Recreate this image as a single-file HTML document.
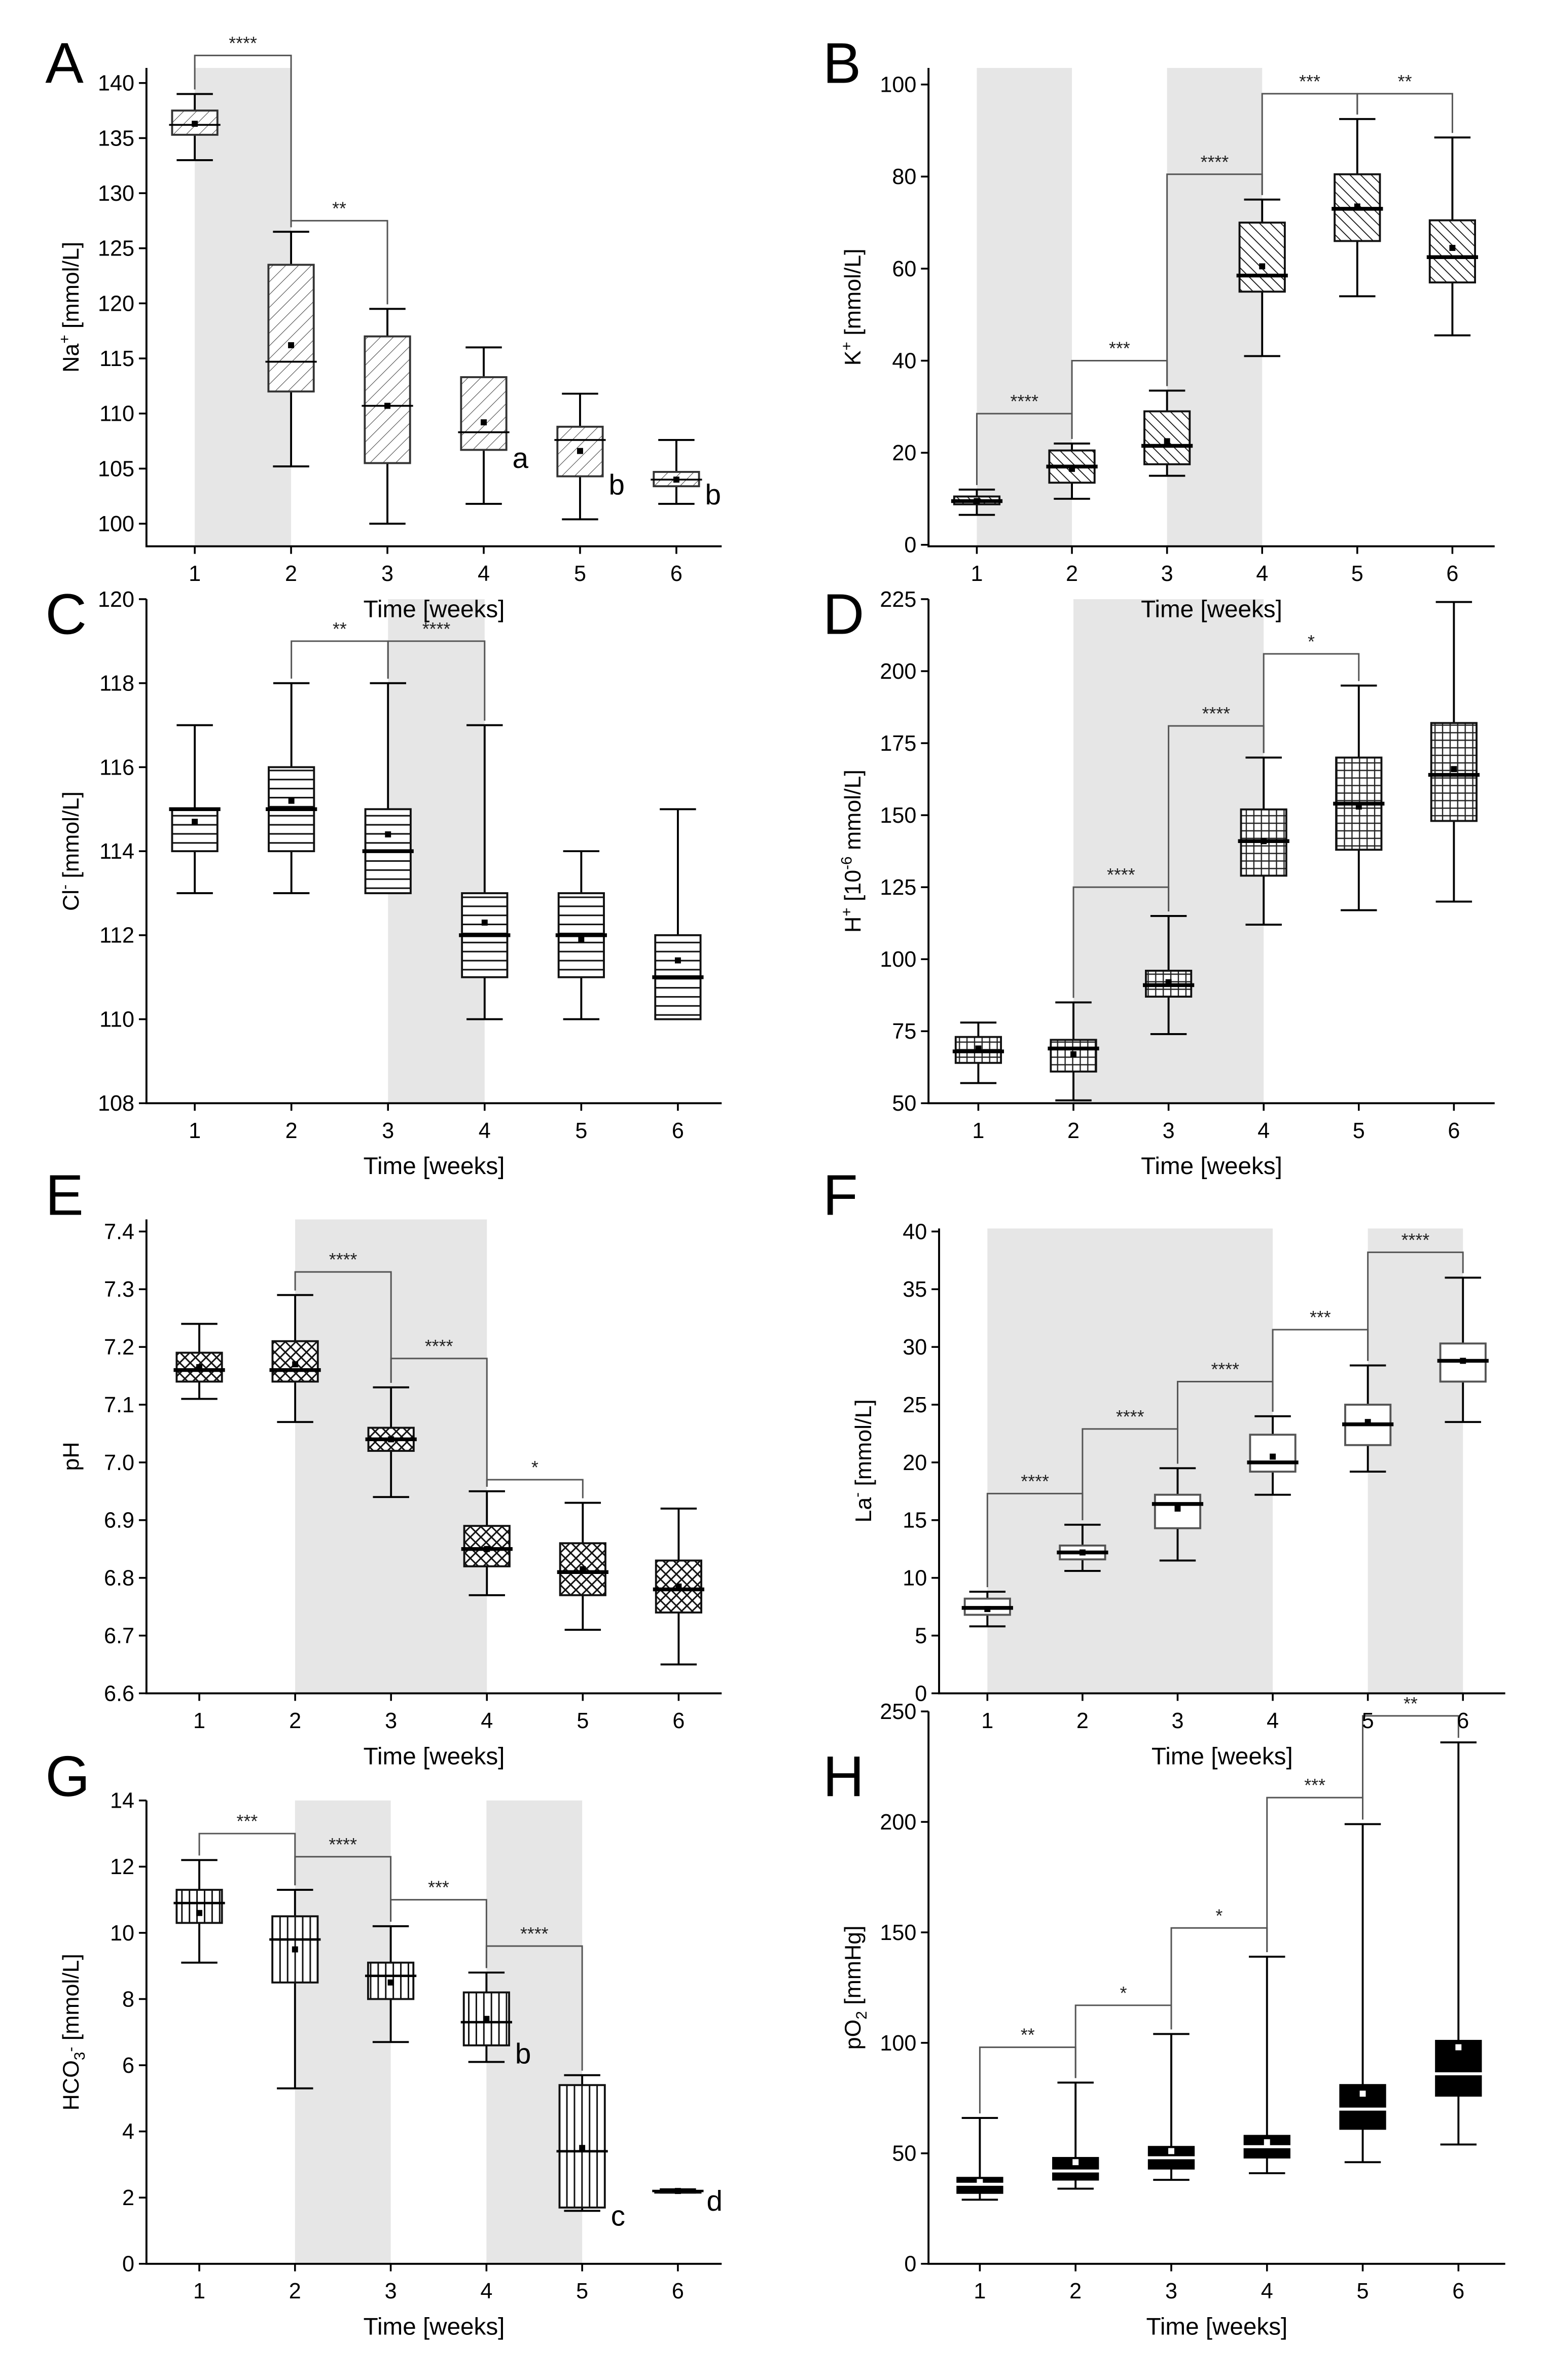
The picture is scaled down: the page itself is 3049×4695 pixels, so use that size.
<!DOCTYPE html>
<html><head><meta charset="utf-8">
<style>
html,body{margin:0;padding:0;background:#fff;}
svg{display:block;font-family:"Liberation Sans",sans-serif;}
</style></head>
<body>
<svg id="fig" width="3049" height="4695" viewBox="0 0 1024 1577" preserveAspectRatio="none" xmlns="http://www.w3.org/2000/svg">
<defs>
<pattern id="pA" patternUnits="userSpaceOnUse" width="6" height="6" patternTransform="rotate(45)"><line x1="0" y1="0" x2="0" y2="6" stroke="#444" stroke-width="0.7"/></pattern>
<pattern id="pB" patternUnits="userSpaceOnUse" width="5" height="5" patternTransform="rotate(-45)"><line x1="0" y1="0" x2="0" y2="5" stroke="#111" stroke-width="1.2"/></pattern>
<pattern id="pC" patternUnits="userSpaceOnUse" width="6" height="6"><line x1="0" y1="0.5" x2="6" y2="0.5" stroke="#111" stroke-width="1.1"/></pattern>
<pattern id="pD" patternUnits="userSpaceOnUse" width="5" height="5"><path d="M0 0.5H5M0.5 0V5" stroke="#222" stroke-width="0.8"/></pattern>
<pattern id="pE" patternUnits="userSpaceOnUse" width="7" height="7"><path d="M0 0L7 7M7 0L0 7" stroke="#111" stroke-width="1"/></pattern>
<pattern id="pG" patternUnits="userSpaceOnUse" width="5" height="5"><line x1="0.5" y1="0" x2="0.5" y2="5" stroke="#111" stroke-width="1"/></pattern>
</defs>
</svg>
<script>
// ---- data: rows are [min, q1, median, q3, max, mean] per week 1..6 ----
const weeks = [1,2,3,4,5,6];
const naBoxes = [[133,135.3,136.2,137.5,139,136.3],[105.2,112,114.7,123.5,126.5,116.2],[100,105.5,110.7,117,119.5,110.7],[101.8,106.7,108.3,113.3,116,109.2],[100.4,104.3,107.6,108.8,111.8,106.6],[101.8,103.4,104,104.7,107.6,104]];
const kBoxes = [[6.5,8.8,9.5,10.5,12,9.5],[10,13.5,17,20.5,22,16.5],[15,17.5,21.5,29,33.5,22.5],[41,55,58.5,70,75,60.5],[54,66,73,80.5,92.5,73.5],[45.5,57,62.5,70.5,88.5,64.5]];
const clBoxes = [[113,114,115,115,117,114.7],[113,114,115,116,118,115.2],[113,113,114,115,118,114.4],[110,111,112,113,117,112.3],[110,111,112,113,114,111.9],[110,110,111,112,115,111.4]];
const hBoxes = [[57,64,68,73,78,69],[51,61,69,72,85,67],[74,87,91,96,115,92],[112,129,141,152,170,141],[117,138,154,170,195,153],[120,148,164,182,224,166]];
const phBoxes = [[7.11,7.14,7.16,7.19,7.24,7.165],[7.07,7.14,7.16,7.21,7.29,7.17],[6.94,7.02,7.04,7.06,7.13,7.04],[6.77,6.82,6.85,6.89,6.95,6.85],[6.71,6.77,6.81,6.86,6.93,6.815],[6.65,6.74,6.78,6.83,6.92,6.785]];
const laBoxes = [[5.8,6.8,7.4,8.2,8.8,7.3],[10.6,11.6,12.2,12.8,14.6,12.2],[11.5,14.3,16.4,17.2,19.5,16],[17.2,19.2,20,22.4,24,20.5],[19.2,21.5,23.3,25,28.4,23.5],[23.5,27,28.8,30.3,36,28.8]];
const hco3Boxes = [[9.1,10.3,10.9,11.3,12.2,10.6],[5.3,8.5,9.8,10.5,11.3,9.5],[6.7,8,8.7,9.1,10.2,8.5],[6.1,6.6,7.3,8.2,8.8,7.4],[1.6,1.7,3.4,5.4,5.7,3.5],[2.15,2.15,2.2,2.2,2.25,2.2]];
const po2Boxes = [[29,32,36,39,66,37],[34,38,42,48,82,46],[38,43,48,53,104,51],[41,48,53,58,139,55],[46,61,70,81,199,77],[54,76,86,101,236,98]];
// significance brackets: [fromWeek, toWeek, level, stars]
const naSig = [[1,2,142.5,'****'],[2,3,127.5,'**']];
const kSig = [[1,2,28.5,'****'],[2,3,40,'***'],[3,4,80.5,'****'],[4,5,98,'***'],[5,6,98,'**']];
const clSig = [[2,3,119,'**'],[3,4,119,'****']];
const hSig = [[2,3,125,'****'],[3,4,181,'****'],[4,5,206,'*']];
const phSig = [[2,3,7.33,'****'],[3,4,7.18,'****'],[4,5,6.97,'*']];
const laSig = [[1,2,17.3,'****'],[2,3,22.9,'****'],[3,4,27,'****'],[4,5,31.5,'***'],[5,6,38.2,'****']];
const hco3Sig = [[1,2,13,'***'],[2,3,12.3,'****'],[3,4,11,'***'],[4,5,9.6,'****']];
const po2Sig = [[1,2,98,'**'],[2,3,117,'*'],[3,4,152,'*'],[4,5,211,'***'],[5,6,248,'**']];
// letters: [week, text]
const naLetters = [[4,'a'],[5,'b'],[6,'b']];
const hco3Letters = [[4,'b'],[5,'c'],[6,'d']];
// gray bands: [fromWeek, toWeek]
const naBands = [[1,2]], kBands = [[1,2],[3,4]], clBands = [[3,4]], hBands = [[2,4]], phBands = [[2,4]], laBands = [[1,4],[5,6]], hco3Bands = [[2,3],[4,5]], po2Bands = [];
const naTicks=[100,105,110,115,120,125,130,135,140], kTicks=[0,20,40,60,80,100], clTicks=[108,110,112,114,116,118,120], hTicks=[50,75,100,125,150,175,200,225], phTicks=[6.6,6.7,6.8,6.9,7.0,7.1,7.2,7.3,7.4], laTicks=[0,5,10,15,20,25,30,35,40], hco3Ticks=[0,2,4,6,8,10,12,14], po2Ticks=[0,50,100,150,200,250];

const NS="http://www.w3.org/2000/svg";
const svg=document.getElementById('fig');
function mk(tag,attrs,parent){const e=document.createElementNS(NS,tag);for(const k in attrs)e.setAttribute(k,attrs[k]);(parent||svg).appendChild(e);return e;}

const panels=[
 {id:'a',letter:'A',lx:30,ly:55,left:97,right:478,top:45,bottom:362,v0:100,p0:347,v1:140,p1:55,c1:129,dx:63.8,boxes:naBoxes,sig:naSig,bands:naBands,ticks:naTicks,dec:0,fill:'url(#pA)',stroke:'#333',medW:1.2,letters:naLetters,ylab:[['Na'],['+','sup'],[' [mmol/L]']]},
 {id:'b',letter:'B',lx:545,ly:55,left:615,right:990,top:45,bottom:362,v0:0,p0:361,v1:100,p1:56,c1:647,dx:63,boxes:kBoxes,sig:kSig,bands:kBands,ticks:kTicks,dec:0,fill:'url(#pB)',stroke:'#111',medW:2.5,letters:[],ylab:[['K'],['+','sup'],[' [mmol/L]']]},
 {id:'c',letter:'C',lx:30,ly:420,left:97,right:478,top:397,bottom:731,v0:108,p0:731,v1:120,p1:397,c1:129,dx:64,boxes:clBoxes,sig:clSig,bands:clBands,ticks:clTicks,dec:0,fill:'url(#pC)',stroke:'#111',medW:2.5,letters:[],ylab:[['Cl'],['-','sup'],[' [mmol/L]']]},
 {id:'d',letter:'D',lx:545,ly:420,left:615,right:990,top:397,bottom:731,v0:50,p0:731,v1:225,p1:397,c1:648,dx:63,boxes:hBoxes,sig:hSig,bands:hBands,ticks:hTicks,dec:0,fill:'url(#pD)',stroke:'#111',medW:2.5,letters:[],ylab:[['H'],['+','sup'],[' [10'],['-6','sup'],[' mmol/L]']]},
 {id:'e',letter:'E',lx:30,ly:805,left:97,right:478,top:808,bottom:1122,v0:6.6,p0:1122,v1:7.4,p1:816,c1:132,dx:63.5,boxes:phBoxes,sig:phSig,bands:phBands,ticks:phTicks,dec:1,fill:'url(#pE)',stroke:'#111',medW:2.5,letters:[],ylab:[['pH']]},
 {id:'f',letter:'F',lx:545,ly:805,left:622,right:997,top:814,bottom:1122,v0:0,p0:1122,v1:40,p1:816,c1:654,dx:63,boxes:laBoxes,sig:laSig,bands:laBands,ticks:laTicks,dec:0,fill:'#fff',stroke:'#555',medW:2.5,letters:[],ylab:[['La'],['-','sup'],[' [mmol/L]']]},
 {id:'g',letter:'G',lx:30,ly:1190,left:97,right:478,top:1193,bottom:1500,v0:0,p0:1500,v1:14,p1:1193,c1:132,dx:63.4,boxes:hco3Boxes,sig:hco3Sig,bands:hco3Bands,ticks:hco3Ticks,dec:0,fill:'url(#pG)',stroke:'#111',medW:1.6,letters:hco3Letters,ylab:[['HCO'],['3','sub'],['-','sup'],[' [mmol/L]']]},
 {id:'h',letter:'H',lx:545,ly:1190,left:615,right:997,top:1134,bottom:1500,v0:0,p0:1500,v1:250,p1:1134,c1:649,dx:63.4,boxes:po2Boxes,sig:po2Sig,bands:po2Bands,ticks:po2Ticks,dec:0,fill:'#000',stroke:'#000',medW:2,letters:[],black:true,ylab:[['pO'],['2','sub'],[' [mmHg]']]}
];

const textLayer=[];
panels.forEach(P=>{
 const y=v=>P.p0+(v-P.v0)*(P.p1-P.p0)/(P.v1-P.v0);
 const x=w=>P.c1+(w-1)*P.dx;
 const g=mk('g',{});
 
 
 const tg=document.createElementNS(NS,'g');
 
 
 textLayer.push(tg);
 const L=mk('text',{x:P.lx,y:P.ly,'font-size':38,fill:'#000'},tg);L.textContent=P.letter;
 
 
 P.bands.forEach(b=>{
  const r=mk('rect',{x:x(b[0]),y:P.top,width:x(b[1])-x(b[0]),height:P.bottom-P.top,fill:'#e6e6e6'},g);
  
  
 });
 const ax=mk('path',{d:`M${P.left} ${P.top}V${P.bottom}H${P.right}`,stroke:'#000','stroke-width':1.3,fill:'none'},g);
 
 
 P.ticks.forEach(t=>{
  const yy=y(t);
  mk('line',{x1:P.left-5,x2:P.left,y1:yy,y2:yy,stroke:'#000','stroke-width':1.2},g);
  const tx=mk('text',{x:P.left-8,y:yy+5,'font-size':14.5,'text-anchor':'end'},tg);
  tx.textContent=t.toFixed(P.dec);
  
  
 });
 weeks.forEach(w=>{
  const xx=x(w);
  mk('line',{x1:xx,x2:xx,y1:P.bottom,y2:P.bottom+5,stroke:'#000','stroke-width':1.2},g);
  const tx=mk('text',{x:xx,y:P.bottom+23,'font-size':14.5,'text-anchor':'middle'},tg);
  tx.textContent=w;
  
  
 });
 const xl=mk('text',{x:(P.left+P.right)/2,y:P.bottom+47,'font-size':16,'text-anchor':'middle'},tg);
 xl.textContent='Time [weeks]';
 
 
 const yc=(P.top+P.bottom)/2;
 const yl=mk('text',{x:0,y:0,'font-size':15,'text-anchor':'middle',transform:`translate(${P.left-45},${yc}) rotate(-90)`},tg);
 
 
 P.ylab.forEach(p=>{
  const ts=mk('tspan',{},yl);ts.textContent=p[0];
  if(p[1]==='sup'){ts.setAttribute('font-size',10);ts.setAttribute('dy',-6);}
  if(p[1]==='sub'){ts.setAttribute('font-size',10);ts.setAttribute('dy',4);}
 });
 let shift=0;[...yl.childNodes].forEach(ts=>{const d=+ts.getAttribute('dy')||0;if(ts.getAttribute('font-size')){shift+=d;}else if(shift){ts.setAttribute('dy',-shift);shift=0;}});
 const bw=30,cw=24;
 P.boxes.forEach((b,i)=>{
  const xx=x(weeks[i]);
  const bg=mk('g',{},g);
  
  
  mk('path',{d:`M${xx} ${y(b[4])}V${y(b[3])}M${xx} ${y(b[1])}V${y(b[0])}M${xx-cw/2} ${y(b[4])}H${xx+cw/2}M${xx-cw/2} ${y(b[0])}H${xx+cw/2}`,stroke:'#000','stroke-width':1.3,fill:'none'},bg);
  if(P.fill!=='#fff'&&!P.black) mk('rect',{x:xx-bw/2,y:y(b[3]),width:bw,height:Math.max(1,y(b[1])-y(b[3])),fill:'#fff'},bg);
  mk('rect',{x:xx-bw/2,y:y(b[3]),width:bw,height:Math.max(1,y(b[1])-y(b[3])),fill:P.fill,stroke:P.black?'#000':P.stroke,'stroke-width':P.black?1:1.3},bg);
  mk('line',{x1:xx-bw/2-2,x2:xx+bw/2+2,y1:y(b[2]),y2:y(b[2]),stroke:P.black?'#fff':'#000','stroke-width':P.medW},bg);
  mk('rect',{x:xx-2,y:y(b[5])-2,width:4,height:4,fill:P.black?'#fff':'#000'},bg);
 });
 P.sig.forEach(s=>{
  const x1=x(s[0]),x2=x(s[1]),yy=y(s[2]);
  const ya=Math.max(yy,y(P.boxes[s[0]-1][4])-3), yb=Math.max(yy,y(P.boxes[s[1]-1][4])-3);
  const br=mk('path',{d:`M${x1} ${ya}V${yy}H${x2}V${yb}`,stroke:'#555','stroke-width':1,fill:'none'},g);
  
  
  const st=mk('text',{x:(x1+x2)/2,y:yy-4,'font-size':12,'text-anchor':'middle',fill:'#222'},tg);
  st.textContent=s[3];
  
  
 });
 P.letters.forEach(l=>{
  const b=P.boxes[l[0]-1];
  const t=mk('text',{x:x(l[0])+19,y:y(b[1])+12,'font-size':19},tg);
  t.textContent=l[1];
  
  
 });
});
textLayer.forEach(tg=>svg.appendChild(tg));
</script>
</body></html>
